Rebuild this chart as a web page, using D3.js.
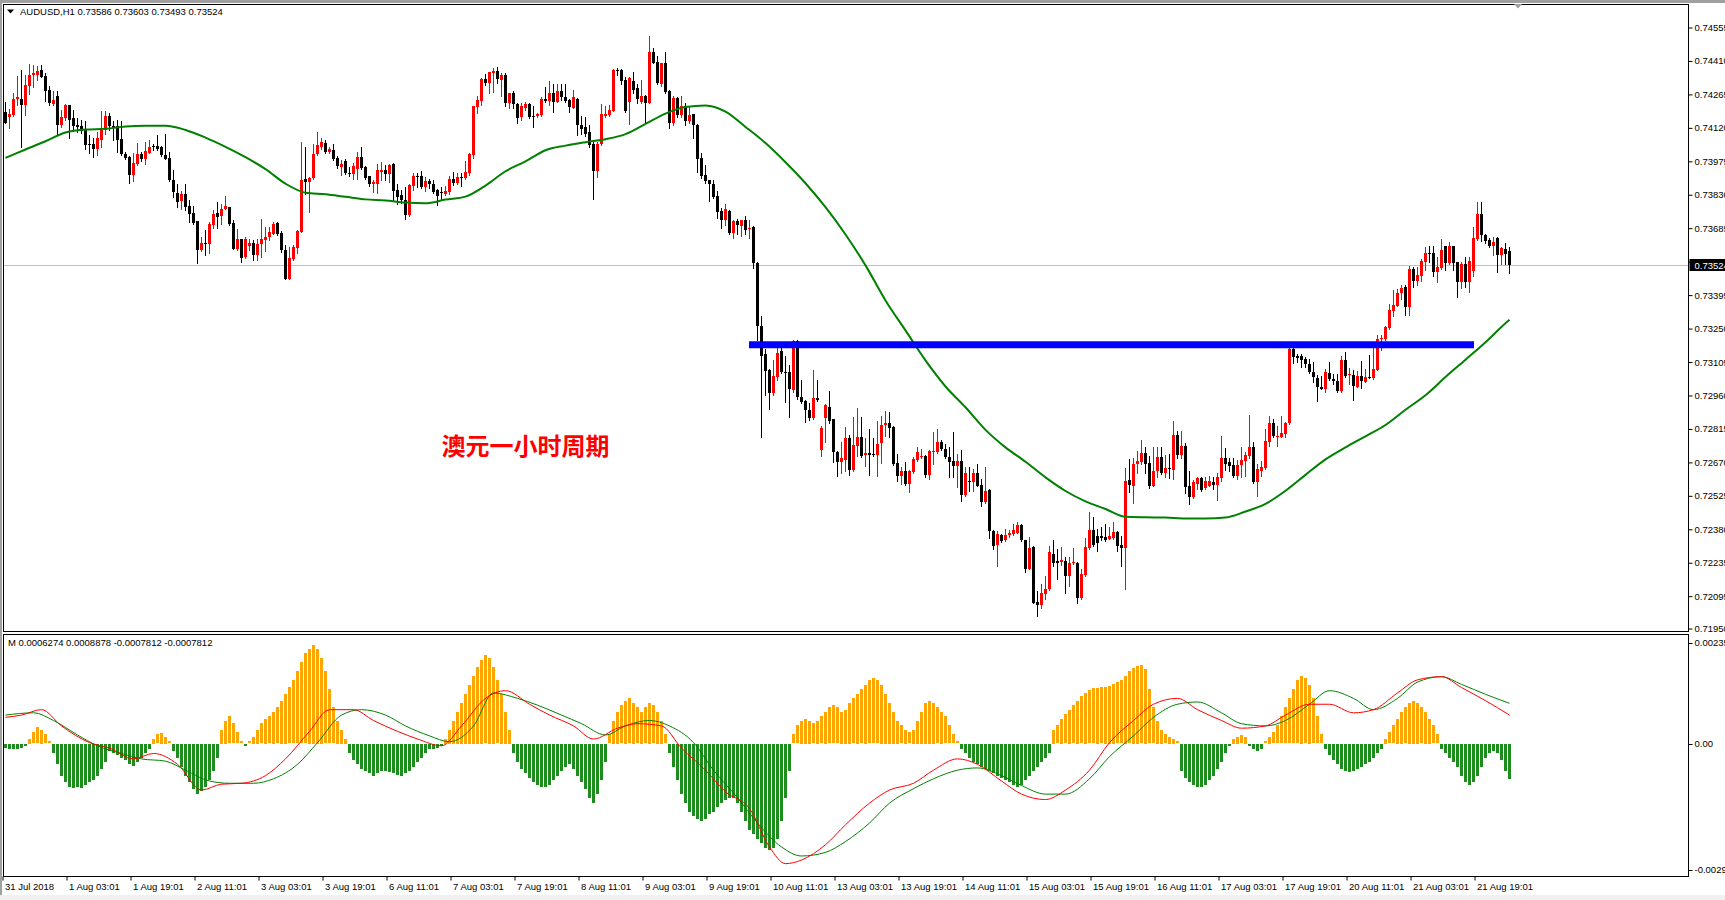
<!DOCTYPE html>
<html>
<head>
<meta charset="utf-8">
<title>AUDUSD,H1</title>
<script src="https://d3js.org/d3.v7.min.js"></script>
<style>
  body { margin: 0; background: #fff; overflow: hidden; }
  svg text { font-family: "Liberation Sans", Arial, sans-serif; }
</style>
</head>
<body>
<script>
var w = 1725, h = 900;

// H1 bars, prices in points (1e-5)
var open = [
74189,74168,74175,74246,74247,74218,74301,74347,74349,74370,74344,74284,74223,74257,74132,74161,74218,74161,74132,74127,
74110,74049,74049,74030,74069,74110,74171,74127,74127,74071,74006,73994,73917,73962,74006,73987,74012,74040,74040,74038,
74004,73990,73896,73839,73803,73832,73780,73751,73715,73589,73621,73618,73700,73751,73737,73770,73777,73708,73593,73637,
73560,73606,73621,73567,73615,73635,73647,73661,73708,73664,73589,73466,73553,73601,73669,73900,73886,73903,74006,74038,
74055,74016,74023,73990,73951,73977,73926,73919,73943,73994,73951,73910,73875,73875,73929,73939,73922,73965,73849,73828,
73809,73741,73867,73912,73910,73864,73890,73878,73849,73842,73832,73842,73897,73881,73907,73904,73925,74001,74211,74237,
74330,74315,74359,74366,74327,74349,74229,74272,74223,74165,74208,74223,74171,74171,74175,74247,74237,74273,74233,74279,
74255,74240,74208,74247,74134,74124,74103,74052,73933,74049,74171,74175,74194,74370,74370,74327,74233,74323,74291,74233,
74257,74229,74450,74407,74312,74399,74281,74142,74250,74175,74214,74150,74179,74132,73990,73915,73893,73878,73825,73760,
73722,73758,73664,73716,73693,73719,73680,73690,73533,73263,73138,73072,72970,73042,73151,73061,73061,72984,73198,72955,
72938,72897,72863,72949,72725,72863,72912,72858,72717,72670,72682,72774,72638,72740,72779,72702,72711,72706,72702,72753,
72832,72841,72825,72666,72612,72634,72576,72630,72682,72692,72696,72617,72714,72714,72760,72728,72695,72677,72653,72677,
72530,72591,72583,72622,72573,72497,72550,72374,72311,72356,72333,72355,72359,72363,72400,72333,72210,72304,72065,72052,
72099,72120,72275,72243,72239,72243,72178,72232,72236,72084,72183,72301,72376,72352,72352,72345,72340,72342,72369,72311,
72298,72595,72568,72665,72670,72710,72667,72568,72634,72694,72626,72644,72636,72790,72703,72742,72568,72518,72576,72602,
72557,72568,72586,72573,72602,72687,72670,72658,72609,72660,72677,72699,72738,72583,72634,72644,72757,72840,72778,72781,
72793,72839,73162,73133,73133,73118,73097,73060,73036,72998,72988,73057,73031,73024,72978,73115,73049,73050,72998,73043,
73020,73042,73036,73072,73205,73205,73253,73328,73350,73403,73429,73343,73509,73458,73480,73538,73577,73577,73494,73513,
73606,73534,73606,73538,73451,73528,73451,73499,73639,73745,73654,73635,73610,73644,73571,73596,73586];
var high = [
74233,74200,74269,74346,74370,74349,74396,74394,74388,74394,74359,74301,74278,74279,74197,74223,74220,74197,74161,74153,
74150,74088,74078,74103,74192,74192,74185,74150,74153,74150,74016,73996,74009,74055,74016,74059,74066,74052,74088,74040,
74095,74016,73936,73875,73845,73875,73809,73780,73717,73647,73676,73712,73763,73799,73792,73825,73779,73719,73683,73639,
73647,73640,73632,73640,73724,73690,73690,73712,73712,73673,73611,73603,73611,73676,74059,74038,73907,74052,74103,74074,
74066,74038,74048,73997,73980,73987,73951,73968,74016,74038,73954,73912,73893,73962,73972,73958,73965,73967,73875,73852,
73864,73875,73926,73925,73933,73907,73897,73893,73854,73864,73867,73910,73929,73925,73925,73977,74009,74216,74257,74334,
74352,74363,74378,74382,74359,74356,74272,74279,74226,74226,74233,74229,74214,74185,74255,74295,74324,74308,74308,74310,
74310,74243,74284,74249,74172,74165,74132,74066,74059,74223,74214,74218,74373,74380,74373,74341,74341,74363,74310,74327,
74262,74518,74464,74431,74402,74447,74283,74257,74255,74257,74229,74211,74182,74136,74012,73958,73896,73896,73845,73774,
73789,73763,73719,73726,73721,73737,73719,73693,73537,73303,73162,73075,73112,73177,73169,73133,73090,73200,73201,73028,
72941,72926,73071,73028,72829,72923,72981,72860,72720,72757,72822,72789,72866,72906,72868,72774,72815,72774,72851,72873,
72894,72887,72829,72706,72648,72673,72636,72692,72735,72728,72703,72724,72800,72815,72767,72750,72738,72800,72706,72725,
72648,72648,72641,72663,72598,72648,72554,72376,72374,72358,72381,72376,72405,72410,72402,72335,72345,72306,72113,72142,
72178,72308,72335,72294,72304,72258,72258,72298,72239,72207,72342,72457,72434,72381,72391,72405,72391,72410,72371,72352,
72646,72685,72691,72720,72768,72738,72699,72735,72735,72735,72703,72706,72851,72804,72804,72754,72634,72593,72607,72607,
72605,72612,72607,72622,72785,72732,72691,72691,72680,72738,72717,72877,72757,72662,72677,72814,72872,72858,72829,72872,
72843,73164,73180,73140,73140,73128,73118,73104,73050,73046,73075,73104,73053,73053,73133,73150,73079,73071,73068,73111,
73075,73137,73186,73224,73224,73263,73357,73419,73421,73437,73437,73523,73519,73516,73552,73603,73606,73606,73560,73639,
73608,73625,73610,73540,73538,73562,73562,73690,73798,73798,73661,73644,73646,73646,73602,73620,73603];
var low = [
74139,74121,74171,74218,74038,74175,74266,74295,74327,74339,74237,74218,74217,74088,74124,74156,74078,74107,74103,74098,
74030,74009,73994,74001,74038,74095,74110,74066,74016,74001,73987,73881,73890,73958,73977,73965,74009,74026,74023,73997,
73983,73890,73820,73777,73770,73763,73712,73705,73535,73587,73567,73577,73687,73687,73705,73768,73700,73593,73591,73538,
73558,73589,73546,73546,73560,73586,73635,73658,73656,73582,73464,73464,73546,73577,73667,73835,73755,73900,74001,74030,
74012,74012,73980,73946,73917,73922,73912,73900,73900,73943,73900,73868,73842,73838,73893,73896,73886,73803,73792,73794,
73726,73739,73849,73864,73861,73847,73861,73839,73787,73813,73828,73835,73871,73875,73867,73900,73915,73991,74185,74218,
74305,74269,74276,74315,74257,74214,74208,74208,74139,74153,74197,74161,74124,74165,74171,74233,74218,74189,74231,74240,
74233,74189,74206,74088,74095,74084,74038,73813,73907,74045,74165,74171,74192,74349,74310,74190,74136,74269,74229,74229,
74142,74227,74400,74312,74301,74269,74121,74132,74165,74165,74132,74142,74078,73929,73904,73881,73803,73818,73731,73687,
73698,73661,73644,73658,73650,73658,73644,73514,73201,72782,72964,72902,72960,73028,73057,72931,72868,72974,72945,72926,
72844,72854,72858,72938,72696,72757,72840,72670,72612,72622,72634,72617,72631,72699,72692,72656,72617,72699,72609,72666,
72786,72782,72660,72588,72576,72573,72540,72622,72677,72690,72608,72598,72663,72712,72724,72689,72608,72608,72562,72501,
72526,72547,72547,72566,72479,72492,72342,72294,72219,72327,72330,72348,72357,72362,72330,72197,72207,72060,72005,72041,
72077,72116,72222,72164,72225,72106,72135,72229,72062,72077,72178,72294,72308,72284,72333,72330,72337,72337,72284,72219,
72120,72540,72492,72626,72665,72626,72557,72566,72605,72619,72605,72602,72597,72691,72691,72539,72489,72516,72554,72547,
72555,72566,72554,72506,72590,72636,72634,72607,72597,72605,72612,72691,72581,72525,72612,72641,72742,72778,72742,72779,
72778,72836,73099,73104,73082,73082,73056,73017,72934,72986,72974,73027,73010,72974,72976,73042,73010,72940,72995,72992,
73017,73034,73031,73070,73157,73201,73248,73306,73348,73379,73311,73311,73432,73437,73458,73502,73538,73480,73451,73509,
73502,73531,73502,73386,73426,73429,73408,73476,73635,73629,73620,73603,73567,73494,73531,73531,73493];
var close = [
74142,74179,74243,74255,74218,74305,74349,74356,74366,74341,74281,74226,74240,74132,74165,74218,74156,74127,74124,74107,
74045,74046,74030,74074,74113,74171,74127,74121,74069,74006,73990,73917,73968,74006,73987,74020,74038,74035,74030,74001,
73987,73893,73842,73799,73832,73777,73748,73708,73589,73621,73618,73702,73748,73734,73767,73780,73702,73595,73637,73556,
73638,73621,73567,73618,73638,73647,73667,73702,73658,73589,73466,73556,73603,73671,73896,73886,73903,74006,74045,74059,
74016,74029,73983,73954,73965,73925,73922,73954,73994,73948,73904,73878,73886,73936,73939,73919,73961,73847,73820,73809,
73741,73871,73912,73907,73864,73889,73875,73842,73825,73838,73845,73897,73881,73907,73904,73928,74006,74214,74240,74330,
74315,74360,74366,74330,74349,74229,74269,74223,74161,74214,74223,74165,74168,74182,74247,74236,74272,74233,74279,74252,
74237,74211,74252,74132,74117,74095,74045,73933,74052,74179,74182,74197,74370,74367,74324,74192,74334,74286,74247,74257,
74229,74450,74402,74315,74399,74276,74142,74250,74175,74214,74150,74175,74132,73987,73912,73889,73875,73820,73755,73722,
73770,73664,73716,73698,73719,73679,73686,73534,73263,73133,73068,72970,73046,73145,73061,73058,72989,73198,72952,72931,
72897,72863,72949,72942,72818,72919,72851,72714,72673,72688,72774,72638,72747,72779,72696,72711,72703,72702,72750,72834,
72841,72818,72663,72612,72634,72576,72634,72685,72717,72696,72617,72718,72721,72760,72728,72692,72673,72653,72677,72530,
72624,72583,72622,72569,72497,72547,72371,72308,72359,72330,72356,72366,72376,72400,72333,72210,72298,72062,72052,72106,
72123,72280,72236,72236,72246,72178,72236,72239,72084,72185,72304,72376,72313,72319,72342,72333,72352,72369,72308,72298,
72591,72572,72662,72674,72710,72665,72568,72634,72694,72622,72644,72641,72790,72703,72742,72564,72518,72586,72602,72550,
72590,72590,72573,72607,72687,72665,72655,72612,72660,72680,72703,72738,72583,72641,72648,72761,72840,72785,72785,72797,
72840,73162,73128,73123,73114,73097,73060,73039,72995,72988,73060,73031,73021,72981,73115,73046,73053,73003,73046,73021,
73042,73036,73075,73205,73208,73259,73331,73354,73403,73424,73343,73509,73455,73484,73541,73577,73574,73494,73516,73591,
73534,73610,73534,73451,73528,73451,73541,73642,73745,73654,73629,73610,73625,73571,73600,73574,73524];

// moving average (green), bar index and value in points
var maIdx = [0,5,10,15,20,25,30,35,40,45,50,55,60,65,70,75,80,85,90,95,100,105,110,115,120,125,130,135,140,145,150,155,160,165,170,175,180,185,
  190,195,200,205,210,215,220,225,230,235,240,245,250,255,260,265,270,275,280,285,290,295,300,305,310,315,320,325,330,335,340,345,350,355,360,365,370,375,376];
var maVal = [73990,74026,74062,74100,74113,74116,74126,74129,74129,74111,74078,74038,73993,73941,73878,73839,73832,73821,73810,73805,73796,73793,73809,73822,73870,73932,73975,74023,74043,74058,74071,74093,74137,74182,74210,74217,74190,74124,
  74054,73971,73880,73776,73658,73524,73372,73242,73112,72999,72909,72811,72735,72673,72605,72546,72501,72468,72434,72432,72431,72427,72427,72431,72457,72490,72547,72616,72683,72735,72783,72832,72898,72961,73040,73115,73191,73273,73288];

// lower window, values in 1e-5
var histVal = [
-8,-10,-12,-10,-8,-5,10,25,36,30,20,5,-20,-45,-70,-85,-95,-97,-95,-97,-90,-85,-80,-70,-55,-40,
-15,-20,-25,-30,-35,-45,-48,-40,-30,-20,-10,10,20,24,15,5,-15,-30,-50,-70,-85,-100,-110,-105,-95,-80,-60,-30,
30,50,60,45,25,5,-5,5,15,30,45,55,60,70,80,95,110,125,140,160,180,200,210,219,210,190,160,120,80,50,30,10,
-20,-35,-45,-55,-60,-65,-70,-65,-60,-60,-62,-65,-68,-70,-65,-60,-50,-40,-30,-20,-12,-10,-8,-5,10,30,50,
70,90,110,130,150,170,185,195,190,170,140,110,70,30,
-20,-40,-55,-65,-75,-85,-90,-95,-95,-90,-80,-70,-60,-50,-45,-55,-70,-85,-100,-120,-130,-110,-80,-40,
20,50,70,85,95,100,90,80,70,80,90,85,70,50,20,
-20,-50,-80,-110,-130,-150,-160,-165,-170,-165,-155,-150,-140,-130,-125,-120,-120,-130,-150,-170,-190,-200,-210,-220,-230,-235,-230,-210,-170,-120,-60,
20,40,50,55,50,45,50,60,70,80,85,80,70,75,90,100,110,120,130,140,145,140,130,110,90,70,50,40,30,25,30,
50,70,90,95,90,80,70,60,40,20,5,
-10,-20,-30,-40,-45,-50,-55,-60,-65,-70,-75,-80,-85,-90,-95,-90,-80,-70,-60,-50,-40,-30,-20,
30,40,55,65,75,85,95,105,112,118,122,124,125,126,128,132,136,140,150,160,168,172,173,165,120,80,50,30,20,15,10,5,
-60,-75,-85,-90,-95,-95,-90,-80,-70,-55,-40,
-20,-5,10,15,18,15,-5,-12,-15,-10,5,15,25,40,
60,80,100,120,140,150,145,130,100,60,
20,-10,-25,-35,-45,-55,-60,-62,-60,-55,-50,-45,-40,-30,-20,-10,
10,25,40,55,70,80,90,95,90,80,70,55,40,20,
-10,-20,-30,-40,-50,-70,-85,-90,-85,-70,-50,-30,-20,-15,-20,-35,-60,-78];
var redIdx = [0,4,9,14,21,26,32,37,43,49,54,59,65,70,76,81,87,92,98,103,109,114,120,125,131,136,142,147,153,158,164,169,175,180,186,191,195,199,205,210,216,221,227,232,238,243,249,254,260,265,271,276,282,287,293,298,304,309,315,320,326,331,337,342,348,353,359,364,370,376];
var redVal = [58,63,75,39,2,-10,-34,-22,-46,-103,-90,-88,-71,-34,27,75,75,51,27,10,-5,39,100,117,87,63,39,10,34,44,39,-10,-59,-107,-144,-229,-266,-258,-224,-180,-132,-103,-88,-59,-34,-46,-83,-112,-124,-103,-59,2,51,87,100,75,51,34,39,63,87,87,68,75,112,141,148,124,95,63];
var greenIdx = [0,7,12,18,23,29,34,40,45,51,56,62,67,73,78,84,89,95,100,106,111,117,122,128,133,139,144,150,155,161,166,172,177,183,188,194,199,205,210,216,221,227,232,238,243,249,254,260,265,271,276,282,287,293,298,304,309,315,320,326,331,337,342,348,353,359,364,370,376];
var greenVal = [63,68,51,19,-5,-22,-34,-39,-59,-83,-88,-88,-78,-46,2,63,75,63,39,17,4,39,112,100,85,63,44,19,39,51,39,2,-59,-120,-176,-229,-249,-241,-217,-176,-132,-100,-78,-59,-54,-71,-93,-112,-112,-78,-29,17,58,87,92,68,44,39,51,87,117,100,75,100,136,148,131,109,89];

var priceTicks = [0.74555,0.74410,0.74265,0.74120,0.73975,0.73830,0.73685,0.73540,0.73395,0.73250,0.73105,0.72960,0.72815,0.72670,0.72525,0.72380,0.72235,0.72090,0.71950];
var priceLabels = ["0.74555","0.74410","0.74265","0.74120","0.73975","0.73830","0.73685","0.73540","0.73395","0.73250","0.73105","0.72960","0.72815","0.72670","0.72525","0.72380","0.72235","0.72095","0.71950"];
var macdTicks = [0.00235, 0, -0.00292];
var macdLabels = ["0.00235", "0.00", "-0.00292"];
var timeIdx = [0,16,32,48,64,80,96,112,128,144,160,176,192,208,224,240,256,272,288,304,320,336,352,368];
var timeLabels = ["31 Jul 2018","1 Aug 03:01","1 Aug 19:01","2 Aug 11:01","3 Aug 03:01","3 Aug 19:01","6 Aug 11:01","7 Aug 03:01","7 Aug 19:01","8 Aug 11:01","9 Aug 03:01","9 Aug 19:01","10 Aug 11:01","13 Aug 03:01","13 Aug 19:01","14 Aug 11:01","15 Aug 03:01","15 Aug 19:01","16 Aug 11:01","17 Aug 03:01","17 Aug 19:01","20 Aug 11:01","21 Aug 03:01","21 Aug 19:01"];

var lastPrice = 0.73524;
var levelPrice = 0.73180, levelFrom = 186, levelTo = 367;

var pt = function (p) { return p / 1e5; };

var svg = d3.select("body").append("svg").attr("width", w).attr("height", h);

var left = 3.5, right = 1688.5;
var mainTop = 4.5, mainBottom = 631.5, subTop = 634.5, subBottom = 876.5;

var x = d3.scaleLinear().domain([0, 376]).range([5.5, 5.5 + 4 * 376]);
var y = d3.scaleLinear().domain([0.71950, 0.74555]).range([628.5, 27.5]);
var ym = d3.scaleLinear().domain([-0.00292, 0.00235]).range([875.4, 637.4]);

// window chrome
svg.append("rect").attr("x", 0).attr("y", 0).attr("width", w).attr("height", h).attr("fill", "#fff");
svg.append("rect").attr("x", 0).attr("y", 0).attr("width", w).attr("height", 3).attr("fill", "#a0a0a0");
svg.append("rect").attr("x", 0).attr("y", 0).attr("width", 2).attr("height", h).attr("fill", "#a0a0a0");
svg.append("rect").attr("x", 0).attr("y", 895).attr("width", w).attr("height", 5).attr("fill", "#f0f0f0");

var defs = svg.append("defs");
defs.append("clipPath").attr("id", "clipMain").append("rect")
  .attr("x", left).attr("y", mainTop).attr("width", right - left).attr("height", mainBottom - mainTop);
defs.append("clipPath").attr("id", "clipSub").append("rect")
  .attr("x", left).attr("y", subTop).attr("width", right - left).attr("height", subBottom - subTop);

var main = svg.append("g").attr("clip-path", "url(#clipMain)");

// current price line
main.append("line")
  .attr("x1", left).attr("x2", right)
  .attr("y1", Math.round(y(lastPrice)) + 0.5).attr("y2", Math.round(y(lastPrice)) + 0.5)
  .attr("stroke", "#c0c0c0");

var bars = d3.range(open.length);
var up = function (i) { return close[i] > open[i]; };

main.selectAll(".wick").data(bars).enter().append("line")
  .attr("x1", function (i) { return x(i); })
  .attr("x2", function (i) { return x(i); })
  .attr("y1", function (i) { return Math.round(y(pt(high[i]))); })
  .attr("y2", function (i) { return Math.round(y(pt(low[i]))) + 1; })
  .attr("stroke", function (i) { return up(i) ? "#ff0000" : "#000"; })
  .attr("stroke-width", 1);

main.selectAll(".body").data(bars).enter().append("rect")
  .attr("x", function (i) { return x(i) - 1.5; })
  .attr("width", 3)
  .attr("y", function (i) { return Math.round(y(pt(Math.max(open[i], close[i])))); })
  .attr("height", function (i) {
    var a = Math.round(y(pt(Math.max(open[i], close[i]))));
    var b = Math.round(y(pt(Math.min(open[i], close[i]))));
    return Math.max(1, b - a);
  })
  .attr("fill", function (i) { return up(i) ? "#ff0000" : "#000"; });

// moving average
main.append("path")
  .datum(maIdx.map(function (d, k) { return [d, maVal[k]]; }))
  .attr("fill", "none").attr("stroke", "#008000").attr("stroke-width", 2)
  .attr("d", d3.line().x(function (d) { return x(d[0]); }).y(function (d) { return y(pt(d[1])); }).curve(d3.curveMonotoneX));

// horizontal level
main.append("line")
  .attr("x1", x(levelFrom) - 0.5).attr("x2", x(levelTo) + 0.5)
  .attr("y1", y(levelPrice)).attr("y2", y(levelPrice))
  .attr("stroke", "#0000ff").attr("stroke-width", 7);

// annotation
main.append("text")
  .attr("x", x(109)).attr("y", y(0.72703))
  .attr("fill", "#ff0000")
  .style("font-family", "'Noto Sans CJK SC', sans-serif")
  .style("font-size", "24px").style("font-weight", "bold")
  .text("澳元一小时周期");

// sub window
var sub = svg.append("g").attr("clip-path", "url(#clipSub)");
sub.selectAll(".hist").data(bars).enter().append("rect")
  .attr("x", function (i) { return x(i) - 1.5; })
  .attr("width", 3)
  .attr("y", function (i) { return Math.round(Math.min(ym(0), ym(histVal[i] / 1e5))); })
  .attr("height", function (i) { return Math.max(1, Math.round(Math.abs(ym(0) - ym(histVal[i] / 1e5)))); })
  .attr("fill", function (i) { return histVal[i] >= 0 ? "#ffa500" : "#1e8c1e"; });

var mline = d3.line().x(function (d) { return x(d[0]); }).y(function (d) { return ym(d[1] / 1e5); }).curve(d3.curveMonotoneX);
sub.append("path")
  .datum(greenIdx.map(function (d, k) { return [d, greenVal[k]]; }))
  .attr("fill", "none").attr("stroke", "#008000").attr("stroke-width", 1).attr("d", mline);
sub.append("path")
  .datum(redIdx.map(function (d, k) { return [d, redVal[k]]; }))
  .attr("fill", "none").attr("stroke", "#ff0000").attr("stroke-width", 1).attr("d", mline);

// frames
svg.append("rect").attr("x", left).attr("y", mainTop).attr("width", right - left).attr("height", mainBottom - mainTop)
  .attr("fill", "none").attr("stroke", "#000");
svg.append("rect").attr("x", left).attr("y", subTop).attr("width", right - left).attr("height", subBottom - subTop)
  .attr("fill", "none").attr("stroke", "#000");

// price axis
var pAxis = svg.append("g").attr("transform", "translate(" + right + ",0)")
  .call(d3.axisRight(y).tickValues(priceTicks).tickSize(4).tickPadding(2)
    .tickFormat(function (d, i) { return priceLabels[i]; }));
pAxis.select(".domain").remove();
pAxis.selectAll("text").style("font-family", "'Liberation Sans', Arial, sans-serif").style("font-size", "9.5px").attr("fill", "#000");

// current price tag
var ly = Math.round(y(lastPrice));
svg.append("rect").attr("x", right + 1).attr("y", ly - 6).attr("width", 40).attr("height", 12).attr("fill", "#000");
svg.append("text").attr("x", right + 6).attr("y", ly + 4)
  .attr("fill", "#fff").style("font-size", "9.5px").text(lastPrice.toFixed(5));

// sub axis
var sAxis = svg.append("g").attr("transform", "translate(" + right + ",0)");
macdTicks.forEach(function (v, k) {
  var yy = Math.min(Math.max(ym(v), subTop + 8), subBottom - 7);
  sAxis.append("line").attr("x1", 0).attr("x2", 4).attr("y1", Math.round(yy) + 0.5).attr("y2", Math.round(yy) + 0.5).attr("stroke", "#000");
  sAxis.append("text").attr("x", 6).attr("y", yy + 3.5).style("font-size", "9.5px").text(macdLabels[k]);
});

// time axis
var tAxis = svg.append("g").attr("transform", "translate(-3," + subBottom + ")")
  .call(d3.axisBottom(x).tickValues(timeIdx).tickSize(4).tickPadding(3)
    .tickFormat(function (d, i) { return timeLabels[i]; }));
tAxis.select(".domain").remove();
tAxis.selectAll("text").attr("text-anchor", "start").attr("dx", 2)
  .style("font-family", "'Liberation Sans', Arial, sans-serif").style("font-size", "9.5px").attr("fill", "#000");

// headers
svg.append("path").attr("d", "M7,9.5 L14,9.5 L10.5,13.5 Z").attr("fill", "#000");
svg.append("text").attr("x", 20).attr("y", 15).style("font-size", "9.5px")
  .text("AUDUSD,H1  0.73586 0.73603 0.73493 0.73524");
svg.append("text").attr("x", 8).attr("y", 646).style("font-size", "9.5px")
  .text("M 0.0006274 0.0008878 -0.0007812 -0.0007812");
svg.append("path").attr("d", "M1514,4 L1522,4 L1518,8.5 Z").attr("fill", "#a0a0a0");
</script>
</body>
</html>
